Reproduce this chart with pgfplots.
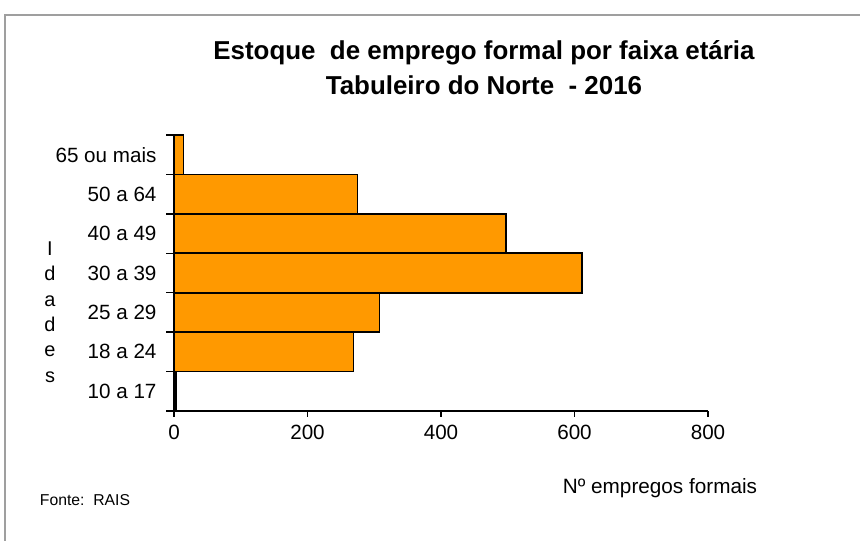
\documentclass[border=0pt]{standalone}
\usepackage{pgfplots}
\pgfplotsset{compat=1.18}
\usepackage{fontspec}
\setmainfont{Liberation Sans}
\definecolor{barorange}{RGB}{255,153,0}
\begin{document}
\begin{tikzpicture}[x=1bp,y=1bp]
\path[use as bounding box] (0,0) rectangle (860,541);
\draw[gray!75, line width=1.2bp] (5,0) -- (5,526) -- (860,526);
\begin{axis}[
  at={(174bp,130bp)}, anchor=south west,
  scale only axis, width=534bp, height=276bp,
  xmin=0, xmax=800, ymin=-0.5, ymax=6.5,
  xtick={0,200,400,600,800},
  ytick={0,...,6},
  yticklabels={10 a 17,18 a 24,25 a 29,30 a 39,40 a 49,50 a 64,65 ou mais},
  minor ytick={-0.5,0.5,...,6.5},
  axis lines*=left,
  tick align=outside,
  major tick length=6bp,
  minor tick length=8bp,
  major y tick style={draw=none},
  minor y tick style={black, line width=1.3bp},
  major x tick style={black, line width=1.3bp},
  x axis line style={line width=1.6bp},
  y axis line style={line width=2.6bp},
  /pgf/number format/assume math mode=true,
  ticklabel style={font=\fontsize{20.7}{24}\selectfont, text=black},
  yticklabel style={xshift=-8bp},
  xticklabel style={yshift=-5bp},
]
\addplot[xbar, bar width=1, bar shift=0, fill=barorange, draw=black, line width=1.6bp]
  coordinates {(3,0) (269,1) (308,2) (611,3) (497,4) (275,5) (14,6)};
\end{axis}
\node[font=\fontsize{26}{30}\selectfont\bfseries] at (484,488) {Estoque\ \ de emprego formal por faixa etária};
\node[font=\fontsize{26}{30}\selectfont\bfseries] at (484,456) {Tabuleiro do Norte\ \ - 2016};
\node[align=center, font=\fontsize{20}{25.5}\selectfont] at (50,229) {I\\d\\a\\d\\e\\s};
\node[font=\fontsize{15.8}{18}\selectfont] at (85,41) {Fonte:\ \ RAIS};
\node[font=\fontsize{20.8}{24}\selectfont] at (660,53) {Nº empregos formais};
\end{tikzpicture}
\end{document}
